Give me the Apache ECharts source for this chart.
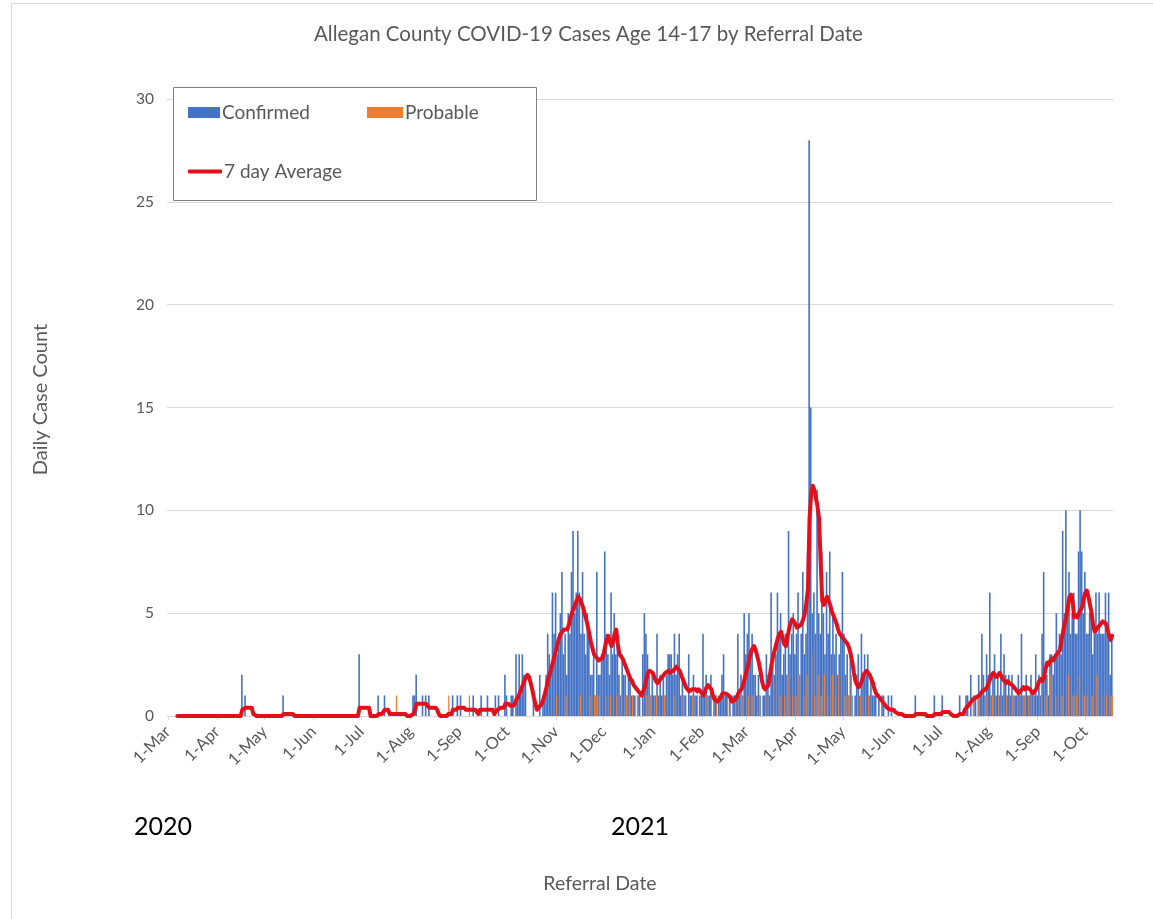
<!DOCTYPE html>
<html>
<head>
<meta charset="utf-8">
<script src="https://cdn.jsdelivr.net/npm/echarts@6.0.0/dist/echarts.min.js"></script>
<style>
html,body{margin:0;padding:0;background:#fff;}
#chart{width:1153px;height:919px;}
</style>
</head>
<body>
<div id="chart"></div>
<script>
// ---------------- DATA ----------------
const titleText = 'Allegan County COVID-19 Cases Age 14-17 by Referral Date';
const seriesNames = ['Confirmed', 'Probable', '7 day Average'];
const monthNames = ['Jan','Feb','Mar','Apr','May','Jun','Jul','Aug','Sep','Oct','Nov','Dec'];
const yTicks = [0, 5, 10, 15, 20, 25, 30];
const yearLabels = ['2020', '2021'];
const firstDay = [2020, 2, 1]; // 1-Mar-2020 (month index 2)

const confirmed2020 = [
  // Mar
  0,0,0,0,0,0,0,0,0,0, 0,0,0,0,0,0,0,0,0,0, 0,0,0,0,0,0,0,0,0,0, 0,
  // Apr
  0,0,0,0,0,0,0,0,0,0, 0,0,0,0,0,0,2,0,1,0, 0,0,0,0,0,0,0,0,0,0,
  // May
  0,0,0,0,0,0,0,0,0,0, 0,0,1,0,0,0,0,0,0,0, 0,0,0,0,0,0,0,0,0,0, 0,
  // Jun
  0,0,0,0,0,0,0,0,0,0, 0,0,0,0,0,0,0,0,0,0, 0,0,0,0,0,0,0,0,0,3,
  // Jul
  0,0,0,0,0,0,0,0,0,0, 0,1,0,0,0,1,0,0,0,0, 0,0,0,0,0,0,0,0,0,0, 0,
  // Aug
  0,0,1,1,2,0,0,0,1,0, 1,0,1,0,0,0,0,0,0,0, 0,0,0,0,0,0,0,1,0,0, 1,
  // Sep
  0,1,0,0,0,0,0,0,0,1, 0,0,0,0,1,0,0,0,1,0, 0,0,0,1,0,1,0,0,0,2,
  // Oct
  1,0,0,1,1,0,3,1,3,1, 3,2,2,0,0,0,0,1,0,0, 0,2,0,1,1,2,4,3,2,6, 4,
  // Nov
  6,3,4,5,7,3,4,2,5,4, 7,9,5,6,9,6,4,7,4,3, 5,4,2,2,3,1,7,2,2,3,
  // Dec
  3,8,4,3,2,6,3,5,3,4, 2,1,3,2,2,1,2,2,1,1, 1,0,1,1,0,3,5,4,3,2, 1
];
const confirmed2021 = [
  // Jan
  2,1,1,4,1,2,1,2,1,2, 3,3,3,2,4,2,3,4,1,2, 1,1,0,3,1,1,2,1,1,0, 1,
  // Feb
  1,4,1,2,1,1,2,0,1,1, 0,1,1,2,3,1,1,0,1,0, 1,1,1,4,1,2,1,5,
  // Mar
  3,4,5,3,4,2,2,1,2,1, 0,1,1,3,2,1,6,3,2,3, 6,4,5,2,3,4,2,9,3,4, 5,
  // Apr
  3,4,6,2,4,7,3,4,8,28, 15,5,6,4,11,5,4,8,5,3, 7,4,8,3,5,3,4,2,3,4,
  // May
  7,4,2,3,1,3,1,0,1,2, 3,1,4,2,3,2,3,1,2,1, 1,1,0,1,0,1,1,0,0,1, 0,
  // Jun
  1,0,0,0,0,0,0,0,0,0, 0,0,0,0,0,1,0,0,0,0, 0,0,0,0,0,0,0,1,0,0,
  // Jul
  0,0,1,0,0,0,0,0,0,0, 0,0,0,1,0,0,0,1,1,0, 2,0,1,1,0,2,1,4,2,1, 3,
  // Aug
  2,6,1,2,3,1,2,1,4,1, 3,2,1,2,1,2,1,1,1,2, 1,4,1,1,2,1,1,2,1,1, 3,
  // Sep
  1,2,1,4,7,2,2,1,3,3, 2,3,5,3,4,3,9,5,10,5, 7,4,5,6,4,4,8,10,8,5,
  // Oct
  7,4,4,5,5,3,4,6,4,6, 4,4,4,6,4,6,2,4
];

const probable2020 = [
  // Mar
  0,0,0,0,0,0,0,0,0,0, 0,0,0,0,0,0,0,0,0,0, 0,0,0,0,0,0,0,0,0,0, 0,
  // Apr
  0,0,0,0,0,0,0,0,0,0, 0,0,0,0,0,0,0,0,0,0, 0,0,0,0,0,0,0,0,0,0,
  // May
  0,0,0,0,0,0,0,0,0,0, 0,0,0,0,0,0,0,0,0,0, 0,0,0,0,0,0,0,0,0,0, 0,
  // Jun
  0,0,0,0,0,0,0,0,0,0, 0,0,0,0,0,0,0,0,0,0, 0,0,0,0,0,0,0,0,0,0,
  // Jul
  0,0,0,0,0,0,0,0,0,0, 0,0,0,0,0,0,0,0,0,0, 0,0,1,0,0,0,0,0,0,0, 0,
  // Aug
  0,0,0,0,0,0,0,0,0,0, 0,0,0,0,0,0,0,0,0,0, 0,0,0,0,1,0,0,0,0,0, 0,
  // Sep
  0,0,0,0,0,0,1,0,0,0, 0,0,0,0,0,0,0,0,0,0, 0,0,0,0,0,0,0,0,0,0,
  // Oct
  0,0,0,0,0,0,0,0,0,0, 0,0,0,0,0,0,0,0,0,0, 0,0,0,0,0,0,0,0,0,0, 0,
  // Nov
  1,0,0,0,0,0,1,0,0,0, 0,0,0,0,0,1,0,0,0,0, 0,1,0,0,1,1,0,1,0,0,
  // Dec
  0,1,0,0,1,0,0,0,1,0, 0,1,0,0,1,0,1,0,1,0, 0,1,0,0,0,0,0,1,0,1, 0
];
const probable2021 = [
  // Jan
  0,0,1,0,0,0,0,1,0,0, 0,0,0,1,0,0,0,0,0,1, 0,0,0,0,0,1,0,0,1,0, 0,
  // Feb
  0,0,0,1,0,0,0,0,0,1, 0,0,0,0,0,0,1,0,0,0, 0,1,0,0,0,1,0,0,
  // Mar
  0,1,0,0,1,0,0,0,1,0, 0,0,1,0,0,0,0,2,0,0, 0,1,0,0,1,0,2,0,0,1, 0,
  // Apr
  1,0,2,0,0,1,0,2,0,0, 3,0,1,0,2,0,1,0,2,0, 1,0,0,2,0,1,0,2,0,0,
  // May
  0,1,0,1,0,2,0,0,0,1, 0,1,0,0,1,0,1,0,0,0, 0,0,0,0,0,0,0,0,0,0, 0,
  // Jun
  0,0,0,0,0,0,0,0,0,0, 0,0,0,0,0,0,0,0,0,0, 0,0,0,0,0,0,0,0,0,0,
  // Jul
  0,0,0,0,0,0,0,0,0,0, 0,0,0,0,0,0,0,0,0,0, 0,1,0,0,1,0,0,0,0,1, 0,
  // Aug
  0,0,1,0,0,0,1,0,0,0, 0,1,0,0,0,1,0,0,1,0, 0,0,1,0,0,1,0,0,1,0, 0,
  // Sep
  0,0,1,0,0,1,0,0,2,0, 0,1,0,0,0,1,0,0,0,2, 0,0,1,0,1,0,2,0,0,1,
  // Oct
  0,1,0,0,1,0,0,2,0,0, 1,0,0,1,0,0,1,1
];

const average2020 = [
  // Mar
  null,null,null,null,null,null,0,0,0,0, 0,0,0,0,0,0,0,0,0,0, 0,0,0,0,0,0,0,0,0,0, 0,
  // Apr
  0,0,0,0,0,0,0,0,0,0, 0,0,0,0,0,0,.3,.3,.4,.4, .4,.4,.4,.1,.1,0,0,0,0,0,
  // May
  0,0,0,0,0,0,0,0,0,0, 0,0,.1,.1,.1,.1,.1,.1,.1,0, 0,0,0,0,0,0,0,0,0,0, 0,
  // Jun
  0,0,0,0,0,0,0,0,0,0, 0,0,0,0,0,0,0,0,0,0, 0,0,0,0,0,0,0,0,0,.4,
  // Jul
  .4,.4,.4,.4,.4,.4,0,0,0,0, 0,.1,.1,.1,.1,.3,.3,.3,.1,.1, .1,.1,.1,.1,.1,.1,.1,.1,.1,0, 0,
  // Aug
  0,0,.1,.3,.6,.6,.6,.6,.6,.6, .6,.6,.4,.4,.4,.4,.4,.3,.1,0, 0,0,0,0,.1,.1,.1,.3,.3,.3, .4,
  // Sep
  .4,.4,.4,.4,.3,.3,.3,.3,.3,.3, .3,.3,.1,.3,.3,.3,.3,.3,.3,.3, .3,.3,.1,.1,.3,.3,.4,.4,.4,.6,
  // Oct
  .6,.6,.5,.5,.5,.6,.8,.9,1.1,1.3, 1.5,1.7,1.9,2.0,1.9,1.6,1.3,.9,.6,.3, .3,.5,.6,.8,1.1,1.4,1.8,2.0,2.3,2.6, 2.9,
  // Nov
  3.2,3.5,3.8,4.0,4.1,4.2,4.2,4.2,4.4,4.7, 5.0,5.2,5.4,5.6,5.8,5.7,5.5,5.3,5.0,4.7, 4.4,4.0,3.6,3.3,3.0,2.9,2.8,2.7,2.7,2.8,
  // Dec
  3.0,3.4,3.7,3.9,3.6,3.4,3.6,4.0,4.2,3.5, 3.0,2.9,2.8,2.6,2.4,2.2,2.0,1.8,1.7,1.5, 1.4,1.3,1.2,1.1,1.0,1.0,1.4,1.8,2.1,2.2, 2.2
];
const average2021 = [
  // Jan
  2.1,1.9,1.7,1.6,1.7,1.8,1.9,2.0,2.1,2.1, 2.2,2.1,2.1,2.2,2.3,2.4,2.4,2.2,2.0,1.8, 1.6,1.4,1.3,1.2,1.2,1.3,1.3,1.3,1.2,1.3, 1.2,
  // Feb
  1.1,1.0,1.2,1.4,1.5,1.4,1.3,1.0,.8,.8, .7,.8,.9,1.1,1.1,1.1,1.1,1.0,.9,.7, .7,.8,.9,1.1,1.2,1.3,1.5,1.8,
  // Mar
  2.1,2.4,2.8,3.1,3.3,3.4,3.2,2.9,2.6,2.2, 1.7,1.4,1.3,1.3,1.5,2.0,2.5,2.9,3.2,3.5, 3.8,4.0,4.1,3.8,3.5,3.4,3.8,4.2,4.5,4.7, 4.7,
  // Apr
  4.5,4.3,4.3,4.4,4.5,4.7,5.0,5.5,6.2,9.6, 10.8,11.2,11.0,10.6,10.2,9.6,7.5,5.6,5.4,5.6, 5.8,5.6,5.4,5.1,4.9,4.9,4.5,4.2,4.0,3.9,
  // May
  3.8,3.7,3.6,3.5,3.3,3.0,2.6,2.1,1.7,1.5, 1.4,1.5,1.7,2.0,2.1,2.2,2.1,2.0,1.8,1.6, 1.3,1.1,1.0,.9,.8,.7,.6,.5,.4,.4, .3,
  // Jun
  .3,.3,.2,.2,.1,.1,.1,.1,0,0, 0,0,0,0,0,.1,.1,.1,.1,.1, .1,.1,0,0,0,0,0,.1,.1,.1,
  // Jul
  .1,.1,.2,.2,.2,.2,.2,.1,.1,0, 0,0,0,.1,.1,.1,.3,.4,.5,.6, .7,.8,.8,.9,.9,1.0,1.1,1.2,1.2,1.3, 1.4,
  // Aug
  1.6,1.8,2.0,2.1,2.0,1.9,2.0,2.1,2.1,1.8, 1.7,1.6,1.7,1.6,1.6,1.5,1.4,1.3,1.2,1.1, 1.1,1.3,1.4,1.3,1.4,1.4,1.3,1.2,1.1,1.1, 1.3,
  // Sep
  1.5,1.7,1.8,1.7,1.9,2.3,2.6,2.5,2.7,2.8, 2.7,2.9,3.0,3.1,3.2,3.7,4.1,4.5,4.8,5.3, 5.8,5.9,5.6,4.8,4.9,4.8,5.0,5.0,5.3,5.7,
  // Oct
  6.0,6.1,5.8,5.4,5.0,4.4,4.1,4.1,4.3,4.4, 4.5,4.6,4.6,4.5,4.2,3.9,3.7,3.9
];

// ---------------- BUILD ----------------
const confirmed = confirmed2020.concat(confirmed2021);
const probable = probable2020.concat(probable2021);
const average = average2020.concat(average2021);

const dates = [];
for (let i = 0; i < confirmed.length; i++) {
  const d = new Date(Date.UTC(firstDay[0], firstDay[1], firstDay[2] + i));
  dates.push(d.toISOString().slice(0, 10));
}
const isMonthStart = (idx, val) => val.slice(8, 10) === '01';
const fmtDate = (val) => parseInt(val.slice(8, 10), 10) + '-' + monthNames[parseInt(val.slice(5, 7), 10) - 1];

const TXT = '#595959';
const FONT = 'Lato';
const legendText = {fontFamily: FONT, fontSize: 19, color: TXT, padding: [0, 0, 0, -3]};

const chart = echarts.init(document.getElementById('chart'), null, {renderer: 'canvas'});
chart.setOption({
  animation: false,
  backgroundColor: '#ffffff',
  title: {
    text: titleText,
    left: 309, top: 19,
    textStyle: {fontFamily: FONT, fontSize: 20.5, fontWeight: 'normal', color: TXT}
  },
  legend: [
    {
      data: [seriesNames[0]],
      left: 188, top: 103, z: 60,
      itemWidth: 32, itemHeight: 11, padding: 0, icon: 'rect',
      textStyle: legendText
    },
    {
      data: [seriesNames[1]],
      left: 367, top: 103, z: 60,
      itemWidth: 36, itemHeight: 11, padding: 0, icon: 'rect',
      textStyle: legendText
    },
    {
      data: [seriesNames[2]],
      left: 188, top: 162, z: 60,
      itemWidth: 34, itemHeight: 4, padding: 0, icon: 'roundRect',
      textStyle: legendText
    }
  ],
  grid: {left: 167, right: 40, top: 99, bottom: 203, containLabel: false, outerBoundsMode: 'none'},
  xAxis: {
    type: 'category',
    data: dates,
    boundaryGap: true,
    name: 'Referral Date',
    nameLocation: 'middle',
    nameGap: 158,
    nameTextStyle: {fontFamily: FONT, fontSize: 19.5, color: TXT, padding: [0, 80, 0, 0]},
    axisLine: {lineStyle: {color: '#d9d9d9', width: 1}},
    axisTick: {show: true, interval: isMonthStart, alignWithLabel: true, length: 4, lineStyle: {color: '#d9d9d9'}},
    axisLabel: {
      interval: isMonthStart,
      formatter: fmtDate,
      rotate: 45,
      margin: 13,
      fontFamily: FONT, fontSize: 16.5, color: TXT
    },
    splitLine: {show: false}
  },
  yAxis: {
    type: 'value',
    min: yTicks[0],
    max: yTicks[yTicks.length - 1],
    interval: yTicks[1] - yTicks[0],
    name: 'Daily Case Count',
    nameLocation: 'middle',
    nameRotate: 90,
    nameGap: 116,
    nameTextStyle: {fontFamily: FONT, fontSize: 20, color: TXT, padding: [0, 0, 0, 16]},
    axisLine: {show: false},
    axisTick: {show: false},
    axisLabel: {fontFamily: FONT, fontSize: 15.5, color: TXT, margin: 13},
    splitLine: {lineStyle: {color: '#d9d9d9', width: 1}}
  },
  series: [
    {
      name: seriesNames[0],
      type: 'bar',
      data: confirmed,
      itemStyle: {color: '#4472c4'},
      barWidth: 1.6,
      barGap: '-30%',
      z: 2
    },
    {
      name: seriesNames[1],
      type: 'bar',
      data: probable,
      itemStyle: {color: '#ed7d31'},
      barWidth: 1.3,
      z: 3
    },
    {
      name: seriesNames[2],
      type: 'line',
      data: average,
      showSymbol: false,
      symbol: 'none',
      lineStyle: {color: '#e3101b', width: 4, cap: 'round', join: 'round'},
      itemStyle: {color: '#e3101b'},
      z: 5
    }
  ],
  graphic: [
    {
      type: 'rect', z: 0, silent: true,
      shape: {x: 11.5, y: 3.5, width: 1160, height: 930},
      style: {fill: 'none', stroke: '#d9d9d9', lineWidth: 1}
    },
    {
      type: 'rect', z: 50, silent: true,
      shape: {x: 173.5, y: 87.5, width: 363, height: 113},
      style: {fill: '#ffffff', stroke: '#7f7f7f', lineWidth: 1}
    },
    {
      type: 'text', z: 50, silent: true,
      left: 134, top: 814,
      style: {text: yearLabels[0], font: '25px Lato', fill: '#000000'}
    },
    {
      type: 'text', z: 50, silent: true,
      left: 611, top: 814,
      style: {text: yearLabels[1], font: '25px Lato', fill: '#000000'}
    }
  ]
});

if (confirmed.length !== probable.length || confirmed.length !== average.length || confirmed.length !== 597) {
  const w = document.createElement('div');
  w.textContent = 'LEN ' + confirmed.length + ' ' + probable.length + ' ' + average.length;
  w.style.cssText = 'position:absolute;left:700px;top:850px;color:#f0f;font:20px sans-serif';
  document.body.appendChild(w);
}
</script>
</body>
</html>
